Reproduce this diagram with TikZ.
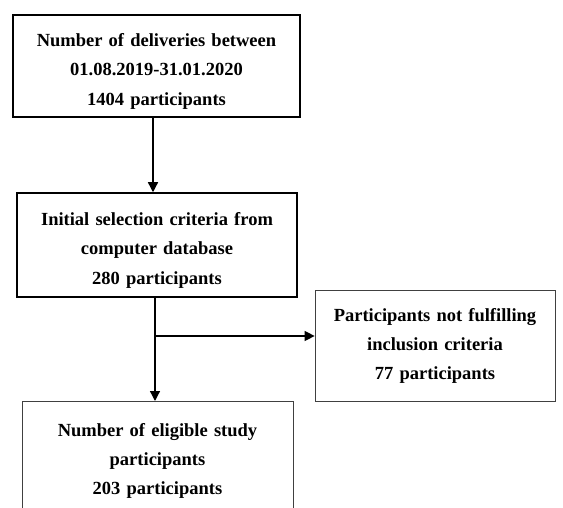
\documentclass[tikz,border=0pt]{standalone}
\usepackage{fontspec}
\setmainfont{Liberation Serif}
\usetikzlibrary{arrows.meta}

\begin{document}
\begin{tikzpicture}[x=1pt, y=-1pt, >={Triangle[length=10pt,width=10pt]}]
    \tikzstyle{stage} = [rectangle, draw, line width=1.5pt, align=center, inner xsep=0pt, font=\bfseries\fontsize{18.5}{29.5}\selectfont]
    \tikzstyle{side} = [rectangle, draw=black!75, line width=0.7pt, align=center, inner xsep=0pt, font=\bfseries\fontsize{18.5}{29}\selectfont]
    \useasboundingbox (0,0) rectangle (563,508);

    \node [stage, text width=287pt, minimum height=102pt] (deliv) at (156.5,66) {\rule{0pt}{23pt}Number of deliveries between\\01.08.2019-31.01.2020\\1404 participants};
    \node [stage, text width=280pt, minimum height=104pt] (select) at (157,245) {\rule{0pt}{23pt}Initial selection criteria from\\computer database\\280 participants};
    \node [side, text width=240pt, minimum height=111pt] (notfit) at (435,345.5) {Participants not fulfilling\\inclusion criteria\\77 participants};
    \node [side, text width=271pt, minimum height=120pt, anchor=north] (elig) at (157.5,401) {Number of eligible study\\participants\\203 participants\\[10pt]};
    \coordinate (split) at (155,336);

    \draw [->, line width=1.3pt] (deliv.south -| 153,0) -- (select.north -| 153,0);
    \draw [->, line width=1.3pt] (select.south -| split) -- (elig.north -| split);
    \draw [->, line width=1.3pt] (split) -- (split -| notfit.west);
\end{tikzpicture}
\end{document}
